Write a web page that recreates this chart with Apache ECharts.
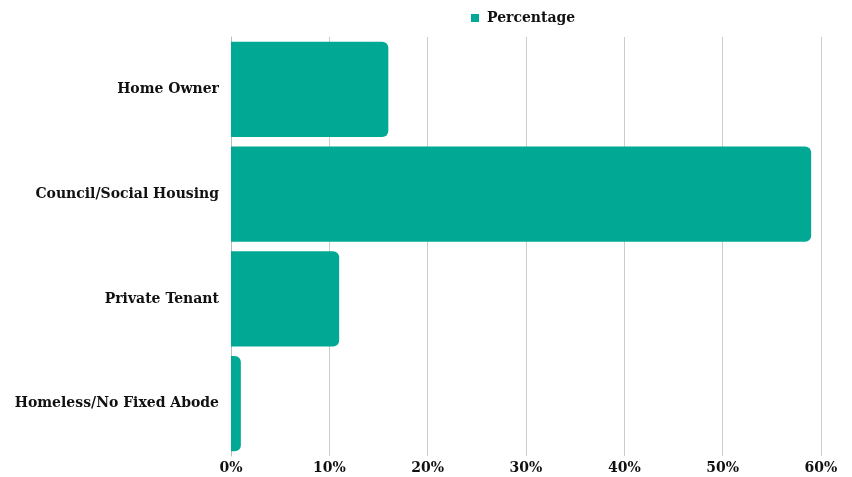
<!DOCTYPE html>
<html>
<head>
<meta charset="utf-8">
<script src="https://cdn.jsdelivr.net/npm/echarts@6/dist/echarts.min.js"></script>
<style>
  html, body { margin: 0; padding: 0; background: #fff; }
  #chart { width: 852px; height: 477px; }
</style>
</head>
<body>
<div id="chart"></div>
<script>
const categories = ['Home Owner', 'Council/Social Housing', 'Private Tenant', 'Homeless/No Fixed Abode'];
const percentages = [16, 59, 11, 1];
const seriesName = 'Percentage';

const chart = echarts.init(document.getElementById('chart'));
const font = 'DejaVu Serif';

const option = {
    backgroundColor: '#fff',
    animation: false,
    legend: {
        data: [seriesName],
        left: 466,
        top: 6,
        icon: 'rect',
        itemWidth: 8,
        itemHeight: 8,
        itemGap: 10,
        textStyle: {
            fontFamily: font,
            fontWeight: 'bold',
            fontSize: 14,
            color: '#111111',
            padding: [0, 0, 0, 3]
        }
    },
    grid: {
        left: 231,
        right: 31,
        top: 37,
        bottom: 21
    },
    xAxis: {
        type: 'value',
        min: 0,
        max: 60,
        interval: 10,
        axisLine: { show: false },
        axisTick: { show: false },
        splitLine: { lineStyle: { color: '#cccccc', width: 1 } },
        axisLabel: {
            formatter: '{value}%',
            margin: 5,
            fontFamily: font,
            fontWeight: 'bold',
            fontSize: 14,
            color: '#111111'
        }
    },
    yAxis: {
        type: 'category',
        inverse: true,
        data: categories,
        axisLine: { show: true, lineStyle: { color: '#bbbbbb' } },
        axisTick: { show: false },
        axisLabel: {
            margin: 12,
            fontFamily: font,
            fontWeight: 'bold',
            fontSize: 14,
            color: '#111111'
        }
    },
    series: [
        {
            name: seriesName,
            type: 'bar',
            data: percentages,
            barCategoryGap: '9%',
            itemStyle: {
                color: '#01a994',
                borderRadius: [0, 6, 6, 0]
            }
        }
    ]
};

chart.setOption(option);
</script>
</body>
</html>
